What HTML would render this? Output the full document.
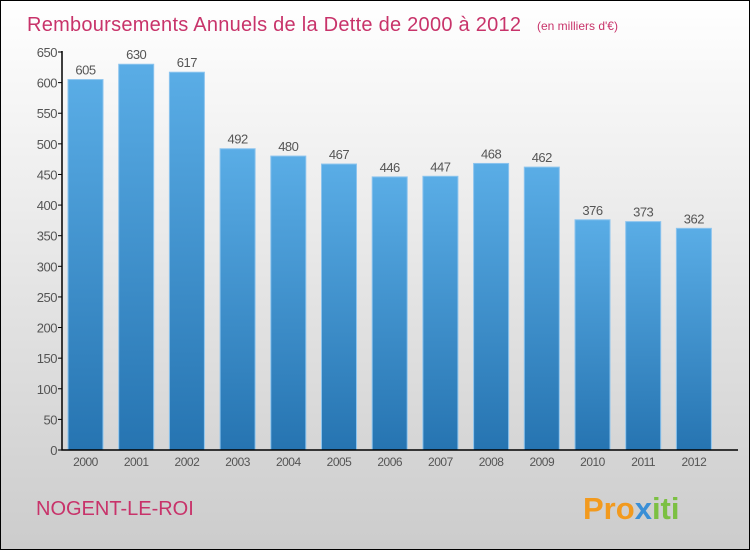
<!DOCTYPE html>
<html><head><meta charset="utf-8"><style>
body{margin:0}
#c{width:748px;height:548px;border:1px solid #000;background:linear-gradient(#fff,#ccc);position:relative;overflow:hidden;font-family:"Liberation Sans",sans-serif}
</style></head><body>
<div id="c">
<svg id="s" width="748" height="548">
<defs><linearGradient id="g" x1="0" y1="0" x2="0" y2="1"><stop offset="0" stop-color="#5aade6"/><stop offset="1" stop-color="#2674b1"/></linearGradient></defs>
<text x="26" y="30" font-size="20" fill="#c8336a" textLength="494">Remboursements Annuels de la Dette de 2000 à 2012</text>
<text x="536" y="29" font-size="12" fill="#c8336a">(en milliers d'€)</text>
<text x="35" y="514" font-size="20" fill="#c8336a">NOGENT-LE-ROI</text>
<text x="582" y="518" font-size="31" font-weight="bold"><tspan fill="#f29a1e">Pro</tspan><tspan fill="#3a8fd6">x</tspan><tspan fill="#7cc042">iti</tspan></text>
</svg></div>
<script>
const categories=["2000","2001","2002","2003","2004","2005","2006","2007","2008","2009","2010","2011","2012"];
const values=[605,630,617,492,480,467,446,447,468,462,376,373,362];
const ticks=[0,50,100,150,200,250,300,350,400,450,500,550,600,650];
const s=document.getElementById('s'),NS="http://www.w3.org/2000/svg";
const y=v=>449-v*(398/650), x=i=>84.5+50.7*i;
function el(t,a,p){const e=document.createElementNS(NS,t);for(const k in a)e.setAttribute(k,a[k]);(p||s).appendChild(e);return e;}
ticks.forEach(t=>{
 const l=el('line',{x1:57,x2:61,y1:y(t),y2:y(t),stroke:'#000'});
 
 
 const tx=el('text',{x:56,y:y(t)+5,'font-size':13,'text-anchor':'end',fill:'#555','letter-spacing':'-0.5'});tx.textContent=t;
 
 
});
values.forEach((v,i)=>{
 const r=el('rect',{x:x(i)-17.5,y:y(v),width:35,height:449-y(v),fill:'url(#g)',stroke:'#8cc4ee','stroke-width':1});
 
 
 const t=el('text',{x:x(i),y:y(v)-5,'font-size':13,'text-anchor':'middle',fill:'#555','letter-spacing':'-0.5'});t.textContent=v;
 
 
 const c=el('text',{x:x(i),y:465,'font-size':12,'text-anchor':'middle',fill:'#555','letter-spacing':'-0.5'});c.textContent=categories[i];
 
 
});
const ax=el('path',{d:'M61 50V449H737',stroke:'#000',fill:'none','stroke-width':1.5});


</script></body></html>
